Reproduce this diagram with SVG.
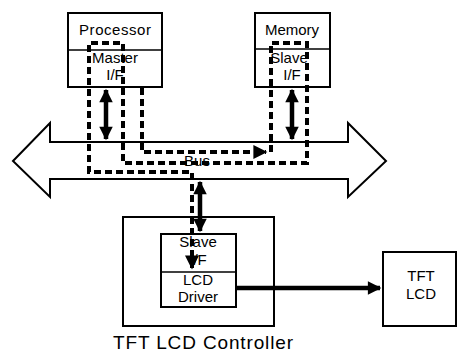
<svg xmlns="http://www.w3.org/2000/svg" width="457" height="354" viewBox="0 0 457 354">
<style>
.box{fill:#fff;stroke:#000;stroke-width:2}
.t{font-family:"Liberation Sans",Arial,sans-serif;font-size:15px;fill:#000;text-anchor:middle}
.dash{fill:none;stroke:#000;stroke-width:4;stroke-dasharray:7 4}
.thick{fill:none;stroke:#000;stroke-width:4.5}
</style>
<defs>
<marker id="ah" viewBox="0 0 10 10" refX="9" refY="5" markerWidth="3.6" markerHeight="3" orient="auto-start-reverse" markerUnits="strokeWidth">
<path d="M0,0 L10,5 L0,10 z" fill="#000"/>
</marker>
<marker id="ahs" viewBox="0 0 10 10" refX="9" refY="5" markerWidth="4" markerHeight="3.5" orient="auto" markerUnits="strokeWidth">
<path d="M0,0 L10,5 L0,10 z" fill="#000"/>
</marker>
</defs>
<rect width="457" height="354" fill="#fff"/>
<g id="bus">
<polygon class="box" points="13,161 50,123 50,142 348,142 348,123 386,161 348,197 348,179 50,179 50,197"/>
<text class="t" x="197" y="166">Bus</text>
</g>
<g id="processor">
<rect class="box" x="68" y="13" width="94" height="74"/>
<line x1="68" y1="50" x2="162" y2="50" stroke="#000" stroke-width="1.5"/>
<text class="t" x="115" y="35" textLength="72">Processor</text>
<text class="t" x="115" y="63">Master</text>
<text class="t" x="115" y="80">I/F</text>
</g>
<g id="memory">
<rect class="box" x="255" y="13" width="75" height="74"/>
<line x1="255" y1="49" x2="330" y2="49" stroke="#000" stroke-width="1.5"/>
<text class="t" x="292" y="35">Memory</text>
<text class="t" x="289" y="63">Slave</text>
<text class="t" x="292" y="80">I/F</text>
</g>
<g id="controller">
<rect class="box" x="123" y="217" width="151" height="109"/>
<rect class="box" x="161" y="234" width="75" height="73" stroke-width="1.5"/>
<line x1="161" y1="272" x2="236" y2="272" stroke="#000" stroke-width="1.5"/>
<text class="t" x="198" y="247">Slave</text>
<text class="t" x="198" y="265">I/F</text>
<text class="t" x="198" y="285">LCD</text>
<text class="t" x="198" y="302">Driver</text>
<text class="t" x="203" y="349" style="font-size:19px" textLength="180">TFT LCD Controller</text>
</g>
<g id="tftlcd">
<rect class="box" x="383" y="252" width="73" height="74"/>
<text class="t" x="421" y="281">TFT</text>
<text class="t" x="421" y="299">LCD</text>
</g>
<g id="connectors">
<line class="thick" x1="106" y1="90" x2="106" y2="139" marker-start="url(#ah)" marker-end="url(#ah)"/>
<line class="thick" x1="292" y1="90" x2="292" y2="139" marker-start="url(#ah)" marker-end="url(#ah)"/>
<line class="thick" x1="200" y1="182" x2="200" y2="231" marker-start="url(#ah)" marker-end="url(#ah)"/>
<line class="thick" x1="236" y1="288" x2="380" y2="288" marker-end="url(#ah)"/>
<polyline class="dash" points="142,88 142,152 266,152" marker-end="url(#ahs)"/>
<polyline class="dash" points="271,152 271,43 307,43 307,163 123,163 123,43 89,43 89,172 192,172 192,268" marker-end="url(#ahs)"/>
</g>
</svg>
